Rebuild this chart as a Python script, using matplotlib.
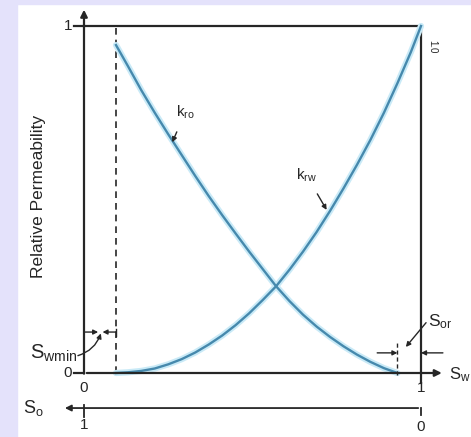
import numpy as np
import matplotlib
matplotlib.use("Agg")
import matplotlib.pyplot as plt
from matplotlib.patches import Rectangle

plt.rcParams['font.family'] = ['Liberation Sans', 'DejaVu Sans']

# values
sw_min = 0.095
s_or = 0.07

sw_ro = [0.095, 0.13, 0.17, 0.21, 0.25, 0.29, 0.33, 0.37, 0.41, 0.45, 0.49, 0.53,
         0.57, 0.61, 0.65, 0.69, 0.73, 0.77, 0.81, 0.85, 0.89, 0.93]
kro = [0.945, 0.885, 0.815, 0.75, 0.688, 0.628, 0.568, 0.51, 0.455, 0.402, 0.35, 0.3,
       0.25, 0.207, 0.168, 0.134, 0.104, 0.077, 0.053, 0.032, 0.014, 0.0]

sw_rw = [0.095, 0.13, 0.17, 0.21, 0.25, 0.29, 0.33, 0.37, 0.41, 0.45, 0.49, 0.53,
         0.57, 0.61, 0.65, 0.69, 0.73, 0.77, 0.81, 0.85, 0.89, 0.93, 0.97, 1.0]
krw = [0.0, 0.002, 0.006, 0.013, 0.025, 0.04, 0.059, 0.082, 0.108, 0.138, 0.172, 0.21,
       0.25, 0.298, 0.35, 0.406, 0.467, 0.532, 0.6, 0.672, 0.75, 0.835, 0.925, 1.0]

curve_col = '#4689ad'
glow_col = '#c9eaf7'
ink = '#262626'

fig = plt.figure(figsize=(4.71, 4.37), dpi=100)
fig.patch.set_facecolor('white')
# lavender frame strips
fig.patches.append(Rectangle((0, 0), 17 / 471, 1, transform=fig.transFigure, color='#e4e2fb', zorder=0))
fig.patches.append(Rectangle((0, 1 - 4 / 437), 1, 4 / 437, transform=fig.transFigure, color='#e4e2fb', zorder=0))

ax = fig.add_axes([0, 0, 1, 1])
ax.set_xlim(-84 / 337, 387 / 337)
ax.set_ylim(-64 / 347, 373 / 347)
ax.axis('off')
ax.patch.set_alpha(0)

lw = 1.6
# frame lines
ax.plot([0, 1], [1, 1], color=ink, lw=lw)
ax.plot([1, 1], [-0.03, 1], color=ink, lw=lw)
ax.plot([-0.03, 0], [1, 1], color=ink, lw=lw)
ax.plot([-0.03, 0], [0, 0], color=ink, lw=lw)
ax.annotate('', xy=(0, 1.055), xytext=(0, -0.01),
            arrowprops=dict(arrowstyle='-|>', color=ink, lw=lw, mutation_scale=10))
ax.annotate('', xy=(1.07, 0), xytext=(0, 0),
            arrowprops=dict(arrowstyle='-|>', color=ink, lw=lw, mutation_scale=10))
ax.plot([sw_min, sw_min], [0, 1], color=ink, lw=1.2, ls=(0, (4, 3)))

# curves
ax.plot(sw_ro, kro, color=glow_col, lw=4.5, solid_capstyle='round')
ax.plot(sw_rw, krw, color=glow_col, lw=4.5, solid_capstyle='round')
ax.plot(sw_ro, kro, color=curve_col, lw=1.7)
ax.plot(sw_rw, krw, color=curve_col, lw=1.7)

# tick labels
fs = 11
ax.text(-0.035, 1, '1', ha='right', va='center', fontsize=fs, color=ink)
ax.text(-0.035, 0, '0', ha='right', va='center', fontsize=fs, color=ink)
ax.text(0, -0.022, '0', ha='center', va='top', fontsize=fs, color=ink)
ax.text(1, -0.022, '1', ha='center', va='top', fontsize=fs, color=ink)
ax.text(1.082, -0.005, r'$\mathregular{S_w}$', ha='left', va='center', fontsize=12, color=ink)
ax.text(-0.135, 0.51, 'Relative Permeability', rotation=90, ha='center', va='center',
        fontsize=12.5, color=ink)
ax.text(1.018, 0.94, '1.0', rotation=-90, ha='left', va='center', fontsize=7, color=ink)

# S_o axis
yo = -0.101
ax.annotate('', xy=(-0.065, yo), xytext=(1, yo),
            arrowprops=dict(arrowstyle='-|>', color=ink, lw=1.3, mutation_scale=9))
ax.plot([1, 1], [yo, yo - 0.02], color=ink, lw=1.3)
ax.plot([0, 0], [yo + 0.01, yo - 0.025], color=ink, lw=1.3)
ax.text(0, yo - 0.03, '1', ha='center', va='top', fontsize=fs, color=ink)
ax.text(1, yo - 0.035, '0', ha='center', va='top', fontsize=fs, color=ink)
ax.text(-0.12, yo, r'$\mathregular{S_o}$', ha='right', va='center', fontsize=13, color=ink)

# curve labels
ax.annotate(r'$\mathregular{k_{ro}}$', xy=(0.262, 0.665), xytext=(0.3, 0.75),
            fontsize=11, color=ink, ha='center', va='center',
            arrowprops=dict(arrowstyle='-|>', color=ink, lw=1.0, mutation_scale=7,
                            shrinkA=6, shrinkB=0))
ax.annotate(r'$\mathregular{k_{rw}}$', xy=(0.72, 0.47), xytext=(0.66, 0.57),
            fontsize=11, color=ink, ha='center', va='center',
            arrowprops=dict(arrowstyle='-|>', color=ink, lw=1.0, mutation_scale=7,
                            shrinkA=6, shrinkB=0))

# S_wmin dimension
yd = 0.118
ax.annotate('', xy=(0.042, yd), xytext=(0.0, yd),
            arrowprops=dict(arrowstyle='-|>', color=ink, lw=1.0, mutation_scale=7, shrinkA=0, shrinkB=0))
ax.annotate('', xy=(0.055, yd), xytext=(sw_min, yd),
            arrowprops=dict(arrowstyle='-|>', color=ink, lw=1.0, mutation_scale=7, shrinkA=0, shrinkB=0))
ax.plot([sw_min, sw_min], [yd - 0.01, yd + 0.01], color=ink, lw=1.0)
ax.text(-0.02, 0.058, r'$\mathregular{S_{wmin}}$', ha='right', va='center', fontsize=14.5, color=ink)
ax.annotate('', xy=(0.05, yd - 0.004), xytext=(-0.018, 0.05),
            arrowprops=dict(arrowstyle='-|>', color=ink, lw=1.0, mutation_scale=7,
                            connectionstyle='arc3,rad=0.25', shrinkA=0, shrinkB=0))

# S_or dimension
xs = 1 - s_or
yr = 0.058
ax.plot([xs, xs], [-0.005, 0.09], color=ink, lw=1.0, ls=(0, (3, 2)))
ax.annotate('', xy=(xs, yr), xytext=(xs - 0.06, yr),
            arrowprops=dict(arrowstyle='-|>', color=ink, lw=1.0, mutation_scale=7, shrinkA=0, shrinkB=0))
ax.annotate('', xy=(1, yr), xytext=(1.065, yr),
            arrowprops=dict(arrowstyle='-|>', color=ink, lw=1.0, mutation_scale=7, shrinkA=0, shrinkB=0))
ax.text(1.02, 0.148, r'$\mathregular{S_{or}}$', ha='left', va='center', fontsize=12.5, color=ink)
ax.annotate('', xy=(xs + 0.025, 0.075), xytext=(1.015, 0.145),
            arrowprops=dict(arrowstyle='-|>', color=ink, lw=1.0, mutation_scale=7,
                            shrinkA=0, shrinkB=0))

fig.savefig('out.png', dpi=100)
